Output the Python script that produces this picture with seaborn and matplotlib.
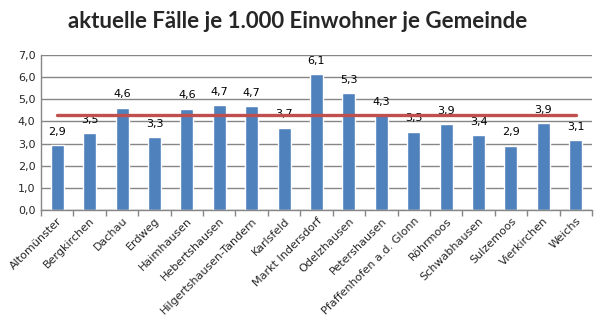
import matplotlib
matplotlib.use("Agg")
import matplotlib.pyplot as plt
import seaborn as sns
import pandas as pd

gemeinden = ["Altomünster", "Bergkirchen", "Dachau", "Erdweg", "Haimhausen",
             "Hebertshausen", "Hilgertshausen-Tandern", "Karlsfeld", "Markt Indersdorf",
             "Odelzhausen", "Petershausen", "Pfaffenhofen a.d. Glonn", "Röhrmoos",
             "Schwabhausen", "Sulzemoos", "Vierkirchen", "Weichs"]
faelle = [2.93, 3.47, 4.62, 3.29, 4.57, 4.72, 4.68, 3.72, 6.12, 5.28, 4.28, 3.54,
          3.87, 3.38, 2.9, 3.92, 3.14]
durchschnitt = [4.27] * len(gemeinden)
yticks = [0, 1, 2, 3, 4, 5, 6, 7]
title = "aktuelle Fälle je 1.000 Einwohner je Gemeinde"

sns.set_theme(style="white")
plt.rcParams['font.family'] = ['DejaVu Sans']

df = pd.DataFrame({"Gemeinde": gemeinden, "Faelle": faelle, "Schnitt": durchschnitt})

fig = plt.figure(figsize=(5.96, 3.33), dpi=100)
ax = fig.add_axes([41/596, 1-210/333, 551/596, 155/333])

sns.barplot(data=df, x="Gemeinde", y="Faelle", color="#4F81BD", saturation=1,
            width=0.4, ax=ax, zorder=2)
sns.lineplot(data=df, x="Gemeinde", y="Schnitt", color="#C0504D", linewidth=2.4,
             ax=ax, zorder=5)

for i, v in enumerate(faelle):
    ax.annotate(f"{v:.1f}".replace(".", ","), (i, v), xytext=(0, 6),
                textcoords="offset points", ha="center", va="bottom",
                fontsize=8, color="black", zorder=4)

ax.set_ylim(0, 7)
ax.set_xlim(-0.5, len(gemeinden) - 0.5)
ax.set_yticks(yticks)
ax.set_yticklabels([f"{t:.1f}".replace(".", ",") for t in yticks], fontsize=8)
ax.yaxis.grid(True, color="#868686", linewidth=1)
ax.set_axisbelow(True)
ax.tick_params(axis="y", length=0, pad=4)
ax.set_xticks(range(len(gemeinden)))
ax.set_xticklabels(gemeinden, rotation=45, ha="right", rotation_mode="anchor", fontsize=8)
ax.tick_params(axis="x", length=0, pad=4)
# boundary tick marks
ax.set_xticks([i - 0.5 for i in range(len(gemeinden) + 1)], minor=True)
ax.tick_params(axis="x", which="minor", length=4, color="#868686", width=1, direction="out", bottom=True)
ax.set_xlabel("")
ax.set_ylabel("")
for s in ["top", "right"]:
    ax.spines[s].set_visible(False)
for s in ["left", "bottom"]:
    ax.spines[s].set_color("#868686")
    ax.spines[s].set_linewidth(1)

fig.text(0.5, 1 - 22/333, title, ha="center", va="center", fontsize=16,
         fontweight="bold", family=["Lato", "DejaVu Sans"])

fig.savefig("out.png", dpi=100)
